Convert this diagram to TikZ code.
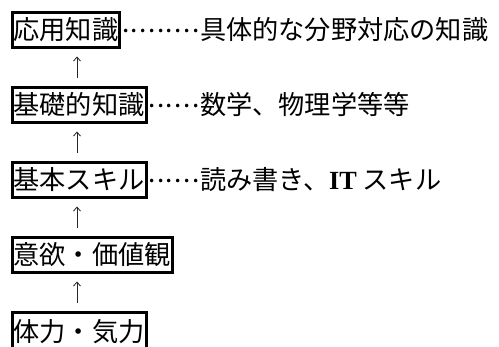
\documentclass[tikz,border=0pt]{standalone}
\usepackage{fontspec}
\setmainfont{Noto Sans CJK JP}
\newfontfamily\latinserif{Liberation Serif}
\usetikzlibrary{arrows.meta}
\newcommand\onedot{\makebox[8.73pt][c]{\raisebox{7pt}{.}}}
\newcommand\leaderdots{\onedot\onedot\onedot\onedot\onedot\onedot}
\newcommand\longleaderdots{\onedot\onedot\onedot\onedot\onedot\onedot\onedot\onedot\onedot}
\tikzset{
  box/.style={draw=black, line width=3pt, inner xsep=1.5pt, inner ysep=4.4pt,
    text height=23.1pt, text depth=3.1pt, font=\fontsize{26.2}{26.2}\selectfont, anchor=west},
  desc/.style={inner sep=0pt, text height=23.1pt, text depth=3.1pt,
    font=\fontsize{26.2}{26.2}\selectfont, anchor=west},
  uparrow/.style={draw=black!85, line width=0.8pt, -{Straight Barb[length=4pt,width=7pt]},
    shorten <=7.5pt, shorten >=7.5pt}
}
\begin{document}
\begin{tikzpicture}[x=1pt,y=-1pt]
\useasboundingbox (0,0) rectangle (499,347);
\node[box] (b1) at (10.5,30) {応用知識};
\node[box] (b2) at (10.5,105) {基礎的知識};
\node[box] (b3) at (10.5,180) {基本スキル};
\node[box] (b4) at (10.5,255) {意欲・価値観};
\node[box, inner ysep=6pt] (b5) at (10.5,331.6) {体力・気力};
\node[desc] (d1) at (b1.east) {\longleaderdots 具体的な分野対応の知識};
\node[desc] (d2) at (b2.east) {\leaderdots 数学、物理学等等};
\node[desc] (d3) at (b3.east) {\leaderdots 読み書き、{\latinserif\bfseries IT} スキル};
\coordinate (ax) at (77,0);
\draw[uparrow] (b2.north -| ax) -- (b1.south -| ax);
\draw[uparrow] (b3.north -| ax) -- (b2.south -| ax);
\draw[uparrow] (b4.north -| ax) -- (b3.south -| ax);
\draw[uparrow] (b5.north -| ax) -- (b4.south -| ax);
\end{tikzpicture}
\end{document}
